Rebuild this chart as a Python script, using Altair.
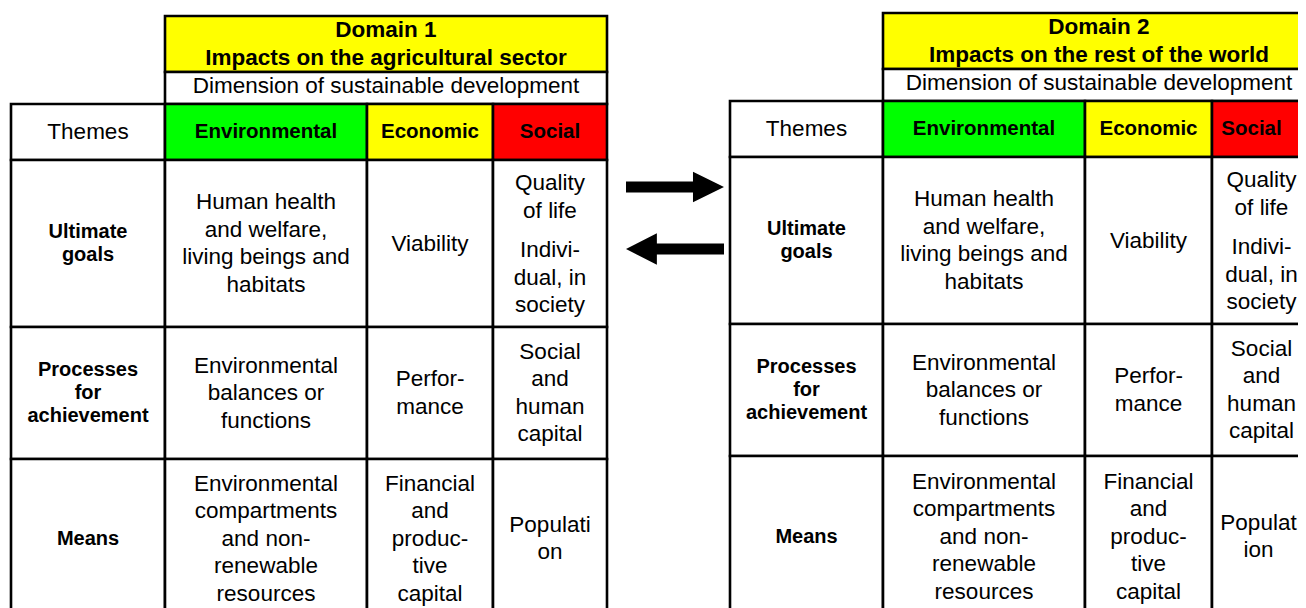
import altair as alt
import pandas as pd

# ---------------- content ----------------
DOMAIN_TITLES = ["Domain 1\nImpacts on the agricultural sector",
                 "Domain 2\nImpacts on the rest of the world"]
DIMENSION_LABEL = "Dimension of sustainable development"
THEMES_LABEL = "Themes"
DIMENSIONS = ["Environmental", "Economic", "Social"]
DIMENSION_COLORS = ["#00ff00", "#ffff00", "#ff0000"]
ROW_LABELS = ["Ultimate\ngoals", "Processes\nfor\nachievement", "Means"]
ENV_CELLS = ["Human health\nand welfare,\nliving beings and\nhabitats",
             "Environmental\nbalances or\nfunctions",
             "Environmental\ncompartments\nand non-\nrenewable\nresources"]
ECO_CELLS = ["Viability", "Perfor-\nmance", "Financial\nand\nproduc-\ntive\ncapital"]
SOC_GOALS = ["Quality\nof life", "Indivi-\ndual, in\nsociety"]
SOC_PROCESSES = "Social\nand\nhuman\ncapital"
SOC_MEANS = ["Populati\non", "Populat\nion"]
ARROWS = ["right", "left"]

# ---------------- layout (page pixels) ----------------
TABLES = [
    dict(cols=[11, 165, 367, 493, 607], rows=[16, 72, 104, 160, 327, 459, 618], soc_dx=0, soc_head_dx=0),
    dict(cols=[730, 883, 1085, 1212, 1315], rows=[13, 69, 101, 157, 324, 456, 617], soc_dx=-2, soc_head_dx=-12),
]
ARROW_X = 675
ARROW_Y = {"right": 187, "left": 249}
ARROW_PATH = {
    "right": "M-1,-0.112L0.367,-0.112L0.367,-0.312L1,0L0.367,0.312L0.367,0.112L-1,0.112Z",
    "left": "M1,-0.112L-0.37,-0.112L-0.37,-0.323L-1,0L-0.37,0.323L-0.37,0.112L1,0.112Z",
}
STYLES = {  # size, weight, line height
    "normal": (22.5, "normal", 27.5),
    "title": (22.5, "bold", 28),
    "head": (20.5, "bold", 24),
    "label": (20, "bold", 23),
}
W, H = 1290, 600

cells, texts = [], []


def add_text(x, y, text, style):
    n = text.count("\n")
    texts.append(dict(x=x, y=y - n * STYLES[style][2] / 2, text=text, style=style))


for t, tab in enumerate(TABLES):
    c, r = tab["cols"], tab["rows"]
    cx = lambda a, b: (c[a] + c[b]) / 2
    cy = lambda a, b: (r[a] + r[b]) / 2
    sx = cx(3, 4) + tab["soc_dx"]
    cells.append(dict(x=c[1], x2=c[4], y=r[0], y2=r[1], fill="#ffff00"))
    add_text(cx(1, 4), cy(0, 1), DOMAIN_TITLES[t], "title")
    cells.append(dict(x=c[1], x2=c[4], y=r[1], y2=r[2], fill="#ffffff"))
    add_text(cx(1, 4), cy(1, 2) - 2, DIMENSION_LABEL, "normal")
    cells.append(dict(x=c[0], x2=c[1], y=r[2], y2=r[3], fill="#ffffff"))
    add_text(cx(0, 1), cy(2, 3), THEMES_LABEL, "normal")
    for j, (name, col) in enumerate(zip(DIMENSIONS, DIMENSION_COLORS)):
        cells.append(dict(x=c[1 + j], x2=c[2 + j], y=r[2], y2=r[3], fill=col))
        dx = tab["soc_head_dx"] if j == 2 else 0
        add_text(cx(1 + j, 2 + j) + dx, cy(2, 3), name, "head")
    for i in range(3):
        for j in range(4):
            cells.append(dict(x=c[j], x2=c[j + 1], y=r[3 + i], y2=r[4 + i], fill="#ffffff"))
        ym = cy(3 + i, 4 + i)
        add_text(cx(0, 1), ym, ROW_LABELS[i], "label")
        add_text(cx(1, 2), ym, ENV_CELLS[i], "normal")
        add_text(cx(2, 3), ym, ECO_CELLS[i], "normal")
        if i == 0:
            add_text(sx, ym - 46.5, SOC_GOALS[0], "normal")
            add_text(sx, ym + 34, SOC_GOALS[1], "normal")
        elif i == 1:
            add_text(sx, ym, SOC_PROCESSES, "normal")
        else:
            add_text(sx - (3 if t else 0), ym, SOC_MEANS[t], "normal")

cells_df = pd.DataFrame(cells)
texts_df = pd.DataFrame(texts)
arrows_df = pd.DataFrame([dict(x=ARROW_X, y=ARROW_Y[a], path=ARROW_PATH[a]) for a in ARROWS])

xs = alt.Scale(domain=[8, 8 + W], nice=False, zero=False)
ys = alt.Scale(domain=[8, 8 + H], nice=False, zero=False, reverse=True)
FONT = "Liberation Sans"

rects = alt.Chart(cells_df).mark_rect(stroke="black", strokeWidth=2.6, clip=True).encode(
    x=alt.X("x:Q", scale=xs, axis=None), x2="x2:Q",
    y=alt.Y("y:Q", scale=ys, axis=None), y2="y2:Q",
    color=alt.Color("fill:N", scale=None),
)

arrows = alt.Chart(arrows_df).mark_point(filled=True, color="black", opacity=1, size=9604,
                                          strokeWidth=0).encode(
    x=alt.X("x:Q", scale=xs, axis=None),
    y=alt.Y("y:Q", scale=ys, axis=None),
    shape=alt.Shape("path:N", scale=None),
)


def text_layer(style):
    size, weight, lh = STYLES[style]
    return alt.Chart(texts_df).transform_filter(alt.datum.style == style).mark_text(
        font=FONT, fontSize=size, fontWeight=weight, lineBreak="\n", lineHeight=lh,
        align="center", baseline="middle", color="black", clip=True,
    ).encode(
        x=alt.X("x:Q", scale=xs, axis=None),
        y=alt.Y("y:Q", scale=ys, axis=None),
        text="text:N",
    )


chart = alt.layer(
    rects, arrows, *[text_layer(s) for s in STYLES]
).properties(
    width=W, height=H, padding=0, autosize=alt.AutoSizeParams(type="none"), background="white"
).configure_view(stroke=None)

chart.save("out.html", embed_options={"renderer": "svg", "actions": False})
